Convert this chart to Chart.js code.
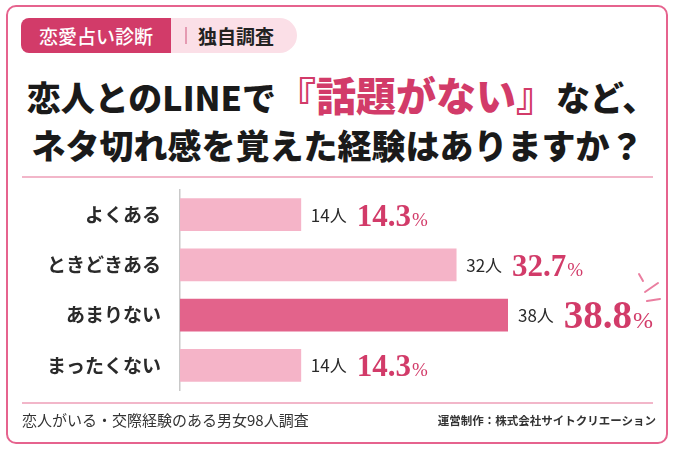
<!DOCTYPE html>
<html lang="ja">
<head>
<meta charset="utf-8">
<script src="https://cdn.jsdelivr.net/npm/chart.js@4.4.1/dist/chart.umd.min.js"></script>
<style>
body{margin:0;background:#fff;font-family:"Noto Sans CJK JP","Noto Sans",sans-serif;}
#wrap{position:relative;width:675px;height:450px;overflow:hidden;background:#fff;}
#frame{position:absolute;left:6px;top:5px;width:662px;height:439px;box-sizing:border-box;border:2px solid #e6638e;border-radius:10px;}
.badgeL{position:absolute;left:21px;top:18px;width:150px;height:35px;background:#d23b69;color:#fff;border-radius:8px 0 0 8px;font-size:19px;font-weight:500;line-height:35px;text-align:center;}
.badgeR{position:absolute;left:171px;top:18px;width:126px;height:35px;background:#fbdfe7;color:#222;border-radius:0 18px 18px 0;font-size:19px;font-weight:700;line-height:35px;}
.badgeR .sep{position:absolute;left:14px;top:9px;width:1.5px;height:17px;background:#e59ab2;}
.badgeR span.t{position:absolute;left:27px;}
.title{position:absolute;left:0;width:675px;text-align:center;color:#1a1a1a;font-weight:900;white-space:nowrap;}
#t1{top:68px;font-size:34px;line-height:52px;padding-left:8px;box-sizing:border-box;}
#t1 .hl{color:#d23b69;font-size:40px;}
#t2{top:120px;font-size:34px;line-height:50px;}
.rule{position:absolute;left:22px;width:631px;height:2px;background:#f2b6c9;}
#foot1{position:absolute;left:22px;top:409px;font-size:15px;color:#333;}
#foot2{position:absolute;right:19px;top:412px;font-size:11.5px;font-weight:700;color:#333;}
#graf{position:absolute;left:0;top:167px;}
</style>
</head>
<body>
<div id="wrap">
  <div id="frame"></div>
  <div class="badgeL">恋愛占い診断</div>
  <div class="badgeR"><div class="sep"></div><span class="t">独自調査</span></div>
  <div class="title" id="t1">恋人とのLINEで<span class="hl">『話題がない』</span>など、</div>
  <div class="title" id="t2">ネタ切れ感を覚えた経験はありますか？</div>
  <div class="rule" style="top:176px"></div>
  <canvas id="graf" width="675" height="246"></canvas>
  <div class="rule" style="top:402px"></div>
  <div id="foot1">恋人がいる・交際経験のある男女98人調査</div>
  <div id="foot2">運営制作：株式会社サイトクリエーション</div>
</div>
<script>
// datos
var categorias=['よくある','ときどきある','あまりない','まったくない'];
var personas=[14,32,38,14];
var porcentajes=[14.3,32.7,38.8,14.3];
var destacado=2; // barra resaltada

var rosaClaro='#f5b4c8';
var rosaFuerte='#e3638b';
var rosaTexto='#d23b69';

var colores=[];
for(let i=0;i<categorias.length;i++){
  colores.push(i===destacado?rosaFuerte:rosaClaro);
}

// etiquetas con numero de personas y porcentaje
var etiquetas={
  id:'etiquetas',
  afterDatasetsDraw:function(chart){
    const ctx=chart.ctx;
    const meta=chart.getDatasetMeta(0);
    ctx.save();
    ctx.textBaseline='alphabetic';
    meta.data.forEach(function(bar,i){
      let x=bar.x+10;
      let y=bar.y;
      ctx.fillStyle='#2a2a2a';
      ctx.font='400 17px "Noto Sans CJK JP"';
      let txt=personas[i]+'人';
      ctx.fillText(txt,x,y+7);
      x+=ctx.measureText(txt).width+10;
      let grande=(i===destacado);
      ctx.fillStyle=rosaTexto;
      ctx.font='700 '+(grande?39:31)+'px "Liberation Serif"';
      let num=porcentajes[i].toFixed(1);
      ctx.fillText(num,x,y+(grande?13:11));
      x+=ctx.measureText(num).width+1;
      ctx.font='400 '+(grande?24:19)+'px "Liberation Serif"';
      ctx.fillText('%',x,y+(grande?13:11));
      if(grande){
        // destellos
        const top=chart.canvas.offsetTop;
        ctx.strokeStyle='#ea7ea0';
        ctx.lineWidth=2;
        ctx.lineCap='round';
        ctx.beginPath();
        ctx.moveTo(639,274-top);ctx.lineTo(643,281-top);
        ctx.moveTo(645,292-top);ctx.lineTo(658,283-top);
        ctx.moveTo(647,301-top);ctx.lineTo(660,299-top);
        ctx.stroke();
      }
    });
    ctx.restore();
  }
};

var ctx=document.getElementById('graf').getContext('2d');
var grafico=new Chart(ctx,{
  type:'bar',
  data:{
    labels:categorias,
    datasets:[{
      data:personas,
      backgroundColor:colores,
      borderWidth:0,
      barThickness:32
    }]
  },
  options:{
    indexAxis:'y',
    responsive:false,
    animation:false,
    layout:{padding:{left:0,right:167,top:12,bottom:12}},
    plugins:{legend:{display:false},tooltip:{enabled:false}},
    scales:{
      x:{display:false,min:0,max:38},
      y:{
        grid:{display:false},
        border:{display:true,color:'#c9c9c9',width:1.5},
        ticks:{color:'#2a2a2a',padding:11,font:{family:'"Noto Sans CJK JP"',size:19,weight:'700'}},
        afterFit:function(scale){scale.width=180;}
      }
    }
  },
  plugins:[etiquetas]
});
</script>
</body>
</html>
